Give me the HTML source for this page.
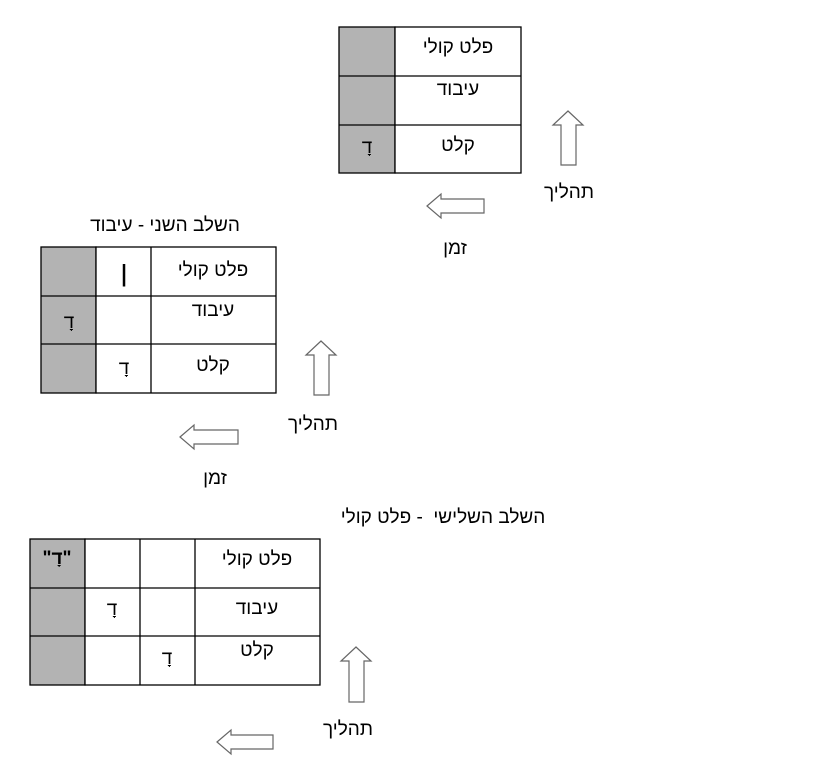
<!DOCTYPE html>
<html><head><meta charset="utf-8"><style>
html,body{margin:0;padding:0;background:#fff;}
svg{display:block;}
text{font-family:"Liberation Sans","DejaVu Sans",sans-serif;font-size:19px;fill:#000;}
</style></head><body>
<svg width="816" height="757" viewBox="0 0 816 757" xmlns="http://www.w3.org/2000/svg">
<g stroke="#000" stroke-width="1.3">
<rect x="339" y="27" width="56" height="146" fill="#b3b3b3"/>
<rect x="395" y="27" width="126" height="146" fill="#fff"/>
<line x1="339" y1="76" x2="521" y2="76"/><line x1="339" y1="125" x2="521" y2="125"/>
<rect x="41" y="247" width="55" height="146" fill="#b3b3b3"/>
<rect x="96" y="247" width="180" height="146" fill="#fff"/>
<line x1="151" y1="247" x2="151" y2="393"/>
<line x1="41" y1="296" x2="276" y2="296"/><line x1="41" y1="344" x2="276" y2="344"/>
<rect x="30" y="539" width="55" height="146" fill="#b3b3b3"/>
<rect x="85" y="539" width="235" height="146" fill="#fff"/>
<line x1="140" y1="539" x2="140" y2="685"/><line x1="195" y1="539" x2="195" y2="685"/>
<line x1="30" y1="588" x2="320" y2="588"/><line x1="30" y1="636" x2="320" y2="636"/>
</g>
<g fill="#fff" stroke="#666" stroke-width="1.2">
<path d="M568,111 L583,125 L576,125 L576,165 L561,165 L561,125 L553,125 Z"/>
<path d="M321,341 L336,355 L329,355 L329,395 L314,395 L314,355 L306,355 Z"/>
<path d="M356,647 L371,661 L364,661 L364,702 L349,702 L349,661 L341,661 Z"/>
<path d="M427,206 L441,194 L441,199 L484,199 L484,213 L441,213 L441,218 Z"/>
<path d="M180,437 L194,425 L194,430 L238,430 L238,444 L194,444 L194,449 Z"/>
<path d="M217,742 L231,730 L231,735 L273,735 L273,749 L231,749 L231,754 Z"/>
</g>
<g text-anchor="middle" direction="rtl">
<text x="458" y="53">פלט קולי</text>
<text x="458" y="95">עיבוד</text>
<text x="458" y="151">קלט</text>
<text x="367" y="153">דָ</text>
<text x="569" y="198">תהליך</text>
<text x="455" y="254">זמן</text>

<text x="165" y="231">השלב השני - עיבוד</text>
<text x="213" y="276">פלט קולי</text>
<text x="213" y="316">עיבוד</text>
<text x="213" y="371">קלט</text>
<text x="124" y="281" style="font-size:28px">ן</text>
<text x="69" y="328">דָ</text>
<text x="124" y="374">דָ</text>
<text x="313" y="430">תהליך</text>
<text x="215" y="484">זמן</text>

<text x="443" y="523" style="white-space:pre">השלב השלישי  - פלט קולי</text>
<text x="257" y="565">פלט קולי</text>
<text x="257" y="614">עיבוד</text>
<text x="257" y="656">קלט</text>
<text x="57" y="564" style="font-weight:bold">"דָ"</text>
<text x="112" y="615">דָ</text>
<text x="167" y="664">דָ</text>
<text x="348" y="735">תהליך</text>
</g>
</svg>
</body></html>
